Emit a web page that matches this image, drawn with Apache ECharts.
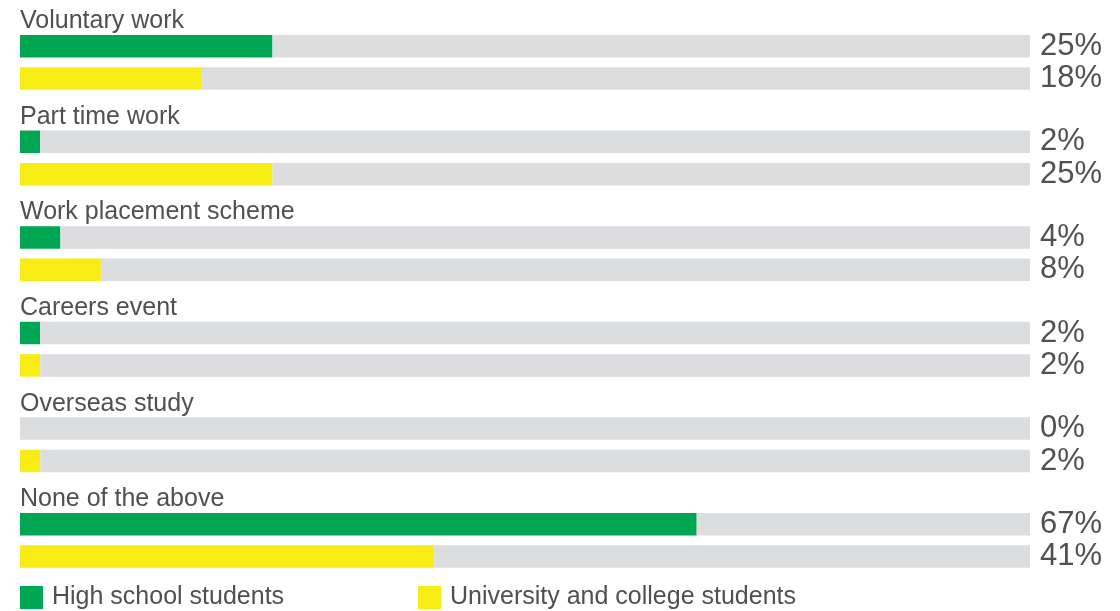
<!DOCTYPE html>
<html><head><meta charset="utf-8">
<script src="https://cdn.jsdelivr.net/npm/echarts@6/dist/echarts.min.js"></script>
<style>html,body{margin:0;padding:0;background:#fff}#c{width:1120px;height:611px}</style>
</head><body><div id="c"></div>
<script>
const categories = ['Voluntary work','Part time work','Work placement scheme','Careers event','Overseas study','None of the above'];
const highSchool = [25, 2, 4, 2, 0, 67];
const university = [18, 25, 8, 2, 2, 41];
const seriesNames = ['High school students','University and college students'];

const FONT = 'Liberation Sans, Arial, sans-serif';
const GREEN = '#00a651', YELLOW = '#f7ec13', GRAY = '#dcdddf', TXT = '#505050';

const rest = arr => arr.map(v => 100 - v);
const valLabel = src => ({
  show: true, position: 'right', distance: 10,
  formatter: p => src[p.dataIndex] + '%',
  fontFamily: FONT, fontSize: 31, color: TXT
});

const chart = echarts.init(document.getElementById('c'));
chart.setOption({
  animation: false,
  grid: { left: 20, right: 90, top: 14.6, bottom: 22.8, containLabel: false },
  xAxis: { type: 'value', min: 0, max: 100, show: false },
  yAxis: {
    type: 'category', data: categories, inverse: true,
    axisLine: { show: false }, axisTick: { show: false },
    axisLabel: {
      inside: true, margin: 0, align: 'left', verticalAlign: 'middle',
      interval: 0, showMinLabel: true, showMaxLabel: true, hideOverlap: false,
      formatter: v => v + '\n \n ', lineHeight: 41,
      fontFamily: FONT, fontSize: 25, color: TXT
    }
  },
  legend: [
    { data: [seriesNames[0]], left: 20, top: 585, padding: 0, itemWidth: 23, itemHeight: 23, icon: 'rect',
      textStyle: { fontFamily: FONT, fontSize: 25, color: TXT, padding: [0, 0, 0, 4] } },
    { data: [seriesNames[1]], left: 418, top: 585, padding: 0, itemWidth: 23, itemHeight: 23, icon: 'rect',
      textStyle: { fontFamily: FONT, fontSize: 25, color: TXT, padding: [0, 0, 0, 4] } }
  ],
  series: [
    { name: seriesNames[0], type: 'bar', stack: 'a', data: highSchool, barWidth: 22.5, barGap: '44%',
      itemStyle: { color: GREEN } },
    { name: 'restA', type: 'bar', stack: 'a', data: rest(highSchool), barWidth: 22.5,
      itemStyle: { color: GRAY }, label: valLabel(highSchool), silent: true },
    { name: seriesNames[1], type: 'bar', stack: 'b', data: university, barWidth: 22.5, barGap: '44%',
      itemStyle: { color: YELLOW } },
    { name: 'restB', type: 'bar', stack: 'b', data: rest(university), barWidth: 22.5,
      itemStyle: { color: GRAY }, label: valLabel(university), silent: true }
  ]
});
</script></body></html>
